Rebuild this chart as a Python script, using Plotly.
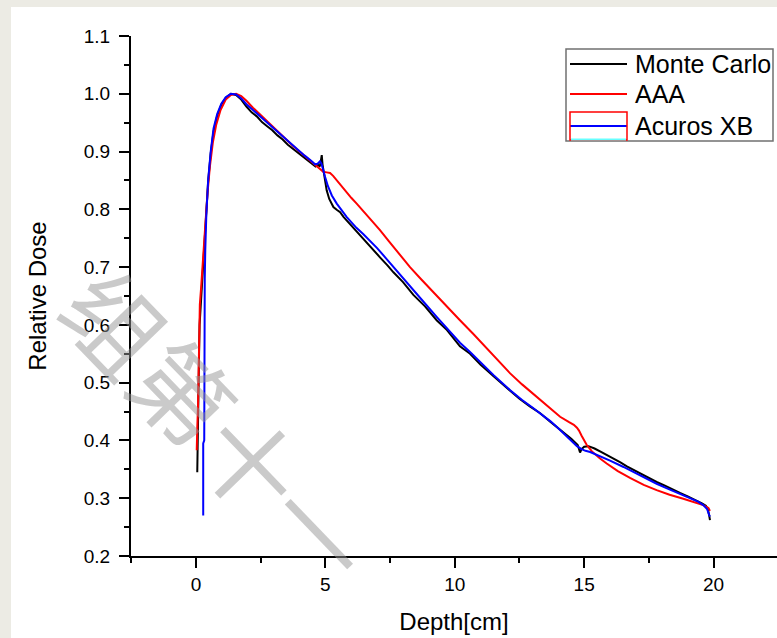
import plotly.graph_objects as go

# ---------------- data ----------------
series_names = ["Monte Carlo", "AAA", "Acuros XB"]
series_colors = ["#000000", "#ff0000", "#0000ff"]

mc_x = [0.05, 0.06, 0.08, 0.10, 0.12, 0.14, 0.18, 0.23, 0.29, 0.34, 0.39, 0.47, 0.57, 0.68,
        0.82, 0.98, 1.15, 1.35, 1.55, 1.75, 1.95, 2.15, 2.35, 2.55, 2.75, 2.95, 3.15, 3.35,
        3.55, 3.75, 3.95, 4.15, 4.35, 4.5, 4.62, 4.72, 4.78, 4.82, 4.86, 4.89, 4.94, 5.0,
        5.05, 5.15, 5.31, 5.45, 5.57, 5.7, 5.82, 6.0, 6.2, 6.34, 6.55, 6.73, 6.95, 7.11,
        7.4, 7.63, 8.0, 8.4, 8.85, 9.3, 9.7, 10.2, 10.59, 11.0, 11.5, 12.14, 12.5, 12.9,
        13.3, 13.7, 14.1, 14.5, 14.75, 14.84, 14.9, 15.0, 15.17, 15.4, 15.65, 15.87, 16.1,
        16.4, 16.65, 16.9, 17.1, 17.3, 17.55, 17.8, 18.1, 18.4, 18.7, 19.0, 19.3, 19.55,
        19.7, 19.78, 19.83, 19.86]
mc_y = [0.345, 0.39, 0.44, 0.50, 0.55, 0.60, 0.63, 0.665, 0.70, 0.735, 0.79, 0.848, 0.897, 0.935,
        0.962, 0.981, 0.993, 1.0, 0.998, 0.99, 0.978, 0.968, 0.961, 0.951, 0.944, 0.937, 0.928, 0.921,
        0.912, 0.905, 0.898, 0.891, 0.884, 0.879, 0.874, 0.877, 0.874, 0.882, 0.894, 0.878, 0.862, 0.848,
        0.833, 0.818, 0.804, 0.799, 0.795, 0.787, 0.781, 0.772, 0.761, 0.755, 0.745, 0.736, 0.725, 0.717,
        0.703, 0.691, 0.674, 0.652, 0.632, 0.608, 0.591, 0.563, 0.550, 0.531, 0.511, 0.485, 0.472, 0.459,
        0.447, 0.432, 0.418, 0.403, 0.392, 0.379, 0.385, 0.389, 0.390, 0.386, 0.380, 0.375, 0.369,
        0.362, 0.355, 0.349, 0.344, 0.339, 0.334, 0.328, 0.322, 0.315, 0.309, 0.303, 0.297, 0.291,
        0.287, 0.281, 0.270, 0.262]

aaa_x = [0.03, 0.03, 0.05, 0.08, 0.10, 0.12, 0.15, 0.20, 0.26, 0.32, 0.38, 0.45, 0.54, 0.65,
         0.78, 0.95, 1.15, 1.35, 1.55, 1.75, 1.95, 2.2, 2.5, 2.8, 3.1, 3.4, 3.7, 4.0, 4.3,
         4.55, 4.75, 4.92, 5.05, 5.18, 5.3, 5.44, 5.6, 5.8, 6.0, 6.21, 6.5, 6.8, 7.11, 7.45,
         7.82, 8.27, 8.7, 9.2, 9.7, 10.2, 10.7, 11.2, 11.7, 12.14, 12.6, 13.0, 13.3, 13.7,
         14.07, 14.4, 14.6, 14.72, 14.8, 14.9, 15.0, 15.1, 15.3, 15.6, 15.87, 16.3, 16.77,
         17.3, 17.8, 18.3, 18.83, 19.3, 19.6, 19.8, 19.86]
aaa_y = [0.383, 0.406, 0.42, 0.46, 0.52, 0.60, 0.635, 0.665, 0.70, 0.74, 0.785, 0.83, 0.875, 0.915,
         0.946, 0.972, 0.99, 0.998, 1.0, 0.996, 0.988, 0.976, 0.963, 0.95, 0.937, 0.925, 0.912, 0.90, 0.889,
         0.879, 0.871, 0.865, 0.864, 0.863, 0.858, 0.85, 0.842, 0.831, 0.82, 0.81, 0.795, 0.781, 0.764, 0.745,
         0.724, 0.70, 0.679, 0.655, 0.631, 0.608, 0.585, 0.561, 0.538, 0.516, 0.497, 0.482, 0.471, 0.456,
         0.441, 0.432, 0.427, 0.422, 0.417, 0.408, 0.399, 0.392, 0.381, 0.369, 0.36, 0.347, 0.335,
         0.323, 0.314, 0.306, 0.299, 0.292, 0.288, 0.283, 0.278]

axb_x = [0.28, 0.28, 0.32, 0.32, 0.33, 0.34, 0.36, 0.40, 0.47, 0.57, 0.68, 0.82, 0.98, 1.15,
         1.35, 1.55, 1.75, 1.95, 2.15, 2.4, 2.7, 3.0, 3.3, 3.6, 3.9, 4.2, 4.45, 4.6, 4.7,
         4.79, 4.85, 4.92, 4.99, 5.1, 5.25, 5.44, 5.62, 5.82, 6.0, 6.2, 6.47, 6.73, 7.0,
         7.31, 7.63, 8.0, 8.4, 8.85, 9.3, 9.7, 10.2, 10.59, 11.0, 11.5, 12.14, 12.6, 13.0,
         13.3, 13.7, 14.0, 14.3, 14.55, 14.72, 14.9, 15.05, 15.23, 15.6, 16.0, 16.52, 17.0,
         17.4, 17.8, 18.2, 18.6, 19.1, 19.4, 19.6, 19.75, 19.82, 19.86]
axb_y = [0.27, 0.395, 0.40, 0.50, 0.60, 0.68, 0.73, 0.79, 0.85, 0.90, 0.94, 0.965, 0.983, 0.994,
         1.0, 0.999, 0.992, 0.982, 0.974, 0.964, 0.952, 0.94, 0.928, 0.916, 0.904, 0.893, 0.884, 0.878, 0.879,
         0.883, 0.879, 0.866, 0.856, 0.84, 0.824, 0.81, 0.798, 0.787, 0.778, 0.768, 0.757, 0.746, 0.733,
         0.717, 0.700, 0.681, 0.660, 0.637, 0.614, 0.594, 0.569, 0.553, 0.535, 0.513, 0.487, 0.470, 0.457,
         0.447, 0.433, 0.421, 0.408, 0.397, 0.390, 0.385, 0.382, 0.380, 0.373, 0.365, 0.354, 0.343,
         0.334, 0.325, 0.317, 0.309, 0.300, 0.294, 0.288, 0.281, 0.272, 0.268]

series_x = [mc_x, aaa_x, axb_x]
series_y = [mc_y, aaa_y, axb_y]

x_range = [-2.51, 22.45]
y_range = [0.1999, 1.1001]
x_title = "Depth[cm]"
y_title = "Relative Dose"
watermark = "组第十一"

# ---------------- layout geometry ----------------
W, H = 777, 638
L, R, T, B = 131, 0, 36, 82
PW, PH = W - L - R, H - T - B


def pxx(p):
    return (p - L) / PW


def pyy(p):
    return (H - B - p) / PH


FONT = "Liberation Sans, Arial, sans-serif"

fig = go.Figure()
for name, color, xs, ys in zip(series_names, series_colors, series_x, series_y):
    fig.add_trace(go.Scatter(x=xs, y=ys, mode="lines", name=name,
                             line=dict(color=color, width=2), showlegend=False))

axis_common = dict(showline=True, linewidth=2, linecolor="black", showgrid=False, zeroline=False,
                   ticks="outside", ticklen=10, tickwidth=2, tickcolor="black",
                   tickfont=dict(family=FONT, size=19, color="black"))

fig.update_xaxes(range=x_range, tick0=0, dtick=5,
                 minor=dict(ticks="outside", ticklen=5, tickwidth=2, tickcolor="black", tick0=0, dtick=2.5),
                 title=dict(text=x_title, font=dict(family=FONT, size=24, color="black"), standoff=19),
                 **axis_common)
fig.update_yaxes(range=y_range, tick0=0.2, dtick=0.1, tickformat=".1f", ticklabelstandoff=5,
                 minor=dict(ticks="outside", ticklen=5, tickwidth=2, tickcolor="black", tick0=0.2, dtick=0.05),
                 title=dict(text=y_title, font=dict(family=FONT, size=24, color="black"), standoff=30),
                 **axis_common)

shapes = []
beige = "#ecebe4"
# page background strips (outside the white card)
shapes.append(dict(type="rect", xref="paper", yref="paper", x0=pxx(0), x1=pxx(11), y0=pyy(H), y1=pyy(0),
                   fillcolor=beige, line=dict(width=0), layer="below"))
shapes.append(dict(type="rect", xref="paper", yref="paper", x0=pxx(0), x1=pxx(W), y0=pyy(7), y1=pyy(0),
                   fillcolor=beige, line=dict(width=0), layer="below"))

# manual legend
shapes.append(dict(type="rect", xref="paper", yref="paper", x0=pxx(566), x1=pxx(773), y0=pyy(141), y1=pyy(49),
                   fillcolor="white", line=dict(color="#707070", width=1.5), layer="above"))
rows = [64, 94, 126]
annotations = []
for name, color, ry in zip(series_names, series_colors, rows):
    shapes.append(dict(type="line", xref="paper", yref="paper", x0=pxx(570), x1=pxx(627), y0=pyy(ry), y1=pyy(ry),
                       line=dict(color=color, width=2), layer="above"))
    annotations.append(dict(text=name, xref="paper", yref="paper", x=pxx(633), y=pyy(ry), xanchor="left",
                            yanchor="middle", showarrow=False, font=dict(family=FONT, size=25, color="black")))
# odd selection box + cyan line around last legend sample
shapes.append(dict(type="rect", xref="paper", yref="paper", x0=pxx(570), x1=pxx(627), y0=pyy(140), y1=pyy(112),
                   fillcolor="rgba(0,0,0,0)", line=dict(color="#ff0000", width=1.5), layer="above"))
shapes.append(dict(type="line", xref="paper", yref="paper", x0=pxx(571), x1=pxx(626), y0=pyy(139.5), y1=pyy(139.5),
                   line=dict(color="#66ffff", width=2), layer="above"))

# watermark
annotations.append(dict(text=watermark, xref="paper", yref="paper", x=pxx(220), y=pyy(425),
                        xanchor="center", yanchor="middle", showarrow=False, textangle=46,
                        font=dict(family="Noto Sans CJK SC", size=98, color="rgba(150,150,150,0.5)")))

fig.update_layout(width=W, height=H, margin=dict(l=L, r=R, t=T, b=B, autoexpand=False),
                  paper_bgcolor="white", plot_bgcolor="white", showlegend=False,
                  shapes=shapes, annotations=annotations,
                  font=dict(family=FONT, color="black"))

fig.write_html("out.html")
